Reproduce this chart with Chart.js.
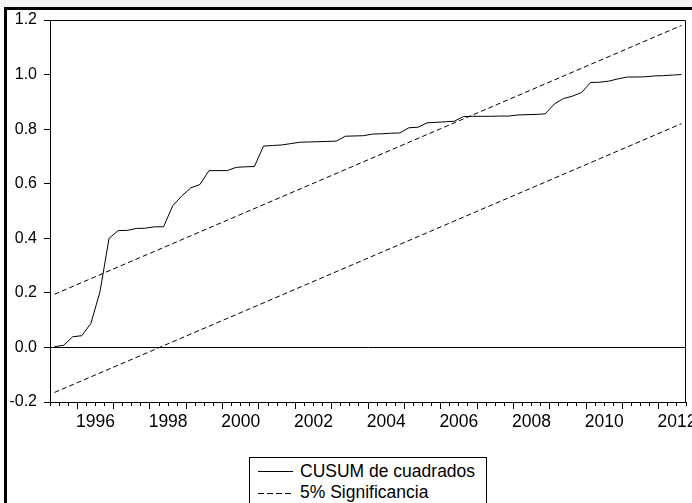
<!DOCTYPE html>
<html>
<head>
<meta charset="utf-8">
<script src="https://cdn.jsdelivr.net/npm/chart.js@4"></script>
<style>
html,body{margin:0;padding:0;background:#fff;}
#wrap{position:relative;width:692px;height:503px;overflow:hidden;background:#fff;}
#topband{position:absolute;left:0;top:0;width:692px;height:7px;background:#f4f4f4;}
#frame{position:absolute;left:4px;top:7px;width:720px;height:600px;border-left:3px solid #000;border-top:3px solid #000;pointer-events:none;}
#c{position:absolute;left:0;top:0;}
#legend{position:absolute;left:249px;top:457px;width:238px;height:70px;box-sizing:border-box;border:1px solid #000;background:#fff;}
.lt{position:absolute;font-family:'Liberation Sans',Arial,sans-serif;font-size:17.5px;line-height:20px;color:#000;white-space:nowrap;}
#ls{position:absolute;left:0;top:0;}
</style>
</head>
<body>
<div id="wrap">
  <div id="topband"></div>
  <canvas id="c" width="692" height="503"></canvas>
  <div id="legend"></div>
  <span class="lt" style="left:300px;top:461px;">CUSUM de cuadrados</span>
  <span class="lt" style="left:300px;top:482px;">5% Significancia</span>
  <svg id="ls" width="692" height="503">
    <line x1="258" y1="471.5" x2="293" y2="471.5" stroke="#000" stroke-width="1"/>
    <line x1="258" y1="493.5" x2="293" y2="493.5" stroke="#000" stroke-width="1" stroke-dasharray="6,3"/>
  </svg>
  <div id="frame"></div>
</div>
<script>
// ---- data ----
const quarters = [
 '1995Q2','1995Q3','1995Q4',
 '1996Q1','1996Q2','1996Q3','1996Q4',
 '1997Q1','1997Q2','1997Q3','1997Q4',
 '1998Q1','1998Q2','1998Q3','1998Q4',
 '1999Q1','1999Q2','1999Q3','1999Q4',
 '2000Q1','2000Q2','2000Q3','2000Q4',
 '2001Q1','2001Q2','2001Q3','2001Q4',
 '2002Q1','2002Q2','2002Q3','2002Q4',
 '2003Q1','2003Q2','2003Q3','2003Q4',
 '2004Q1','2004Q2','2004Q3','2004Q4',
 '2005Q1','2005Q2','2005Q3','2005Q4',
 '2006Q1','2006Q2','2006Q3','2006Q4',
 '2007Q1','2007Q2','2007Q3','2007Q4',
 '2008Q1','2008Q2','2008Q3','2008Q4',
 '2009Q1','2009Q2','2009Q3','2009Q4',
 '2010Q1','2010Q2','2010Q3','2010Q4',
 '2011Q1','2011Q2','2011Q3','2011Q4',
 '2012Q1','2012Q2','2012Q3'
];
const cusumSq = [
 0.003,0.008,0.039,0.043,0.088,0.204,0.400,0.428,0.429,0.436,
 0.437,0.442,0.442,0.519,0.555,0.585,0.597,0.648,0.648,0.648,
 0.660,0.662,0.663,0.738,0.740,0.742,0.747,0.752,0.753,0.754,
 0.755,0.756,0.774,0.775,0.776,0.782,0.783,0.785,0.786,0.805,
 0.807,0.823,0.825,0.827,0.829,0.846,0.847,0.847,0.847,0.848,
 0.848,0.852,0.853,0.854,0.856,0.892,0.912,0.921,0.934,0.971,
 0.972,0.976,0.984,0.991,0.991,0.992,0.995,0.996,0.998,1.000
];
const bandQuarters = ['1995Q2','2012Q3'];
const upperBand = [0.195, 1.18];
const lowerBand = [-0.165, 0.82];
const yTickValues = [-0.2, 0.0, 0.2, 0.4, 0.6, 0.8, 1.0, 1.2];
const yearLabels = ['1996','1998','2000','2002','2004','2006','2008','2010','2012'];
const axisStart = '1995Q2';
const axisEnd = '2012Q3';

// quarter label -> position (centre of the quarter, in years)
function qStart(q){ return parseInt(q.slice(0,4),10) + (parseInt(q.slice(5),10)-1)/4; }
function qCenter(q){ return qStart(q) + 0.125; }
const xMin = qStart(axisStart), xMax = qStart(axisEnd) + 0.25;

const toPts = (qs, vs) => qs.map((q,i)=>({x:qCenter(q), y:vs[i]}));

const frame = {
  id:'frame',
  afterDatasetsDraw(chart){
    const {ctx, chartArea:a} = chart;
    ctx.save();
    ctx.strokeStyle = '#000'; ctx.lineWidth = 1;
    ctx.beginPath();
    ctx.moveTo(Math.round(a.left)+0.5, Math.round(a.top)+0.5);
    ctx.lineTo(Math.round(a.right)-0.5, Math.round(a.top)+0.5);
    ctx.lineTo(Math.round(a.right)-0.5, Math.round(a.bottom)+0.5);
    ctx.stroke();
    ctx.restore();
  }
};

new Chart(document.getElementById('c'), {
  type:'line',
  data:{
    datasets:[
      {label:'CUSUM de cuadrados', data:toPts(quarters, cusumSq), borderColor:'#000', borderWidth:1, pointRadius:0, tension:0, fill:false},
      {label:'5% Significancia', data:toPts(bandQuarters, upperBand), borderColor:'#000', borderWidth:1, borderDash:[5,3], pointRadius:0, fill:false},
      {label:'5% Significancia (inf)', data:toPts(bandQuarters, lowerBand), borderColor:'#000', borderWidth:1, borderDash:[5,3], pointRadius:0, fill:false}
    ]
  },
  options:{
    responsive:false, animation:false, devicePixelRatio:1,
    layout:{padding:{top:20, right:6, left:0, bottom:0}},
    plugins:{legend:{display:false}, tooltip:{enabled:false}},
    scales:{
      x:{
        type:'linear', position:'bottom', min:xMin, max:xMax,
        afterBuildTicks(s){
          const t=[]; for(let v=xMin; v<=xMax+1e-9; v+=0.25) t.push({value:v});
          s.ticks=t;
        },
        afterFit(s){ s.height = 101; },
        ticks:{
          autoSkip:false, maxRotation:0, minRotation:0, padding:3, color:'#000',
          font:{family:"'Liberation Sans', Arial, sans-serif", size:17.5},
          callback(v){
            const y = v - 0.5;
            if (Math.abs(y - Math.round(y)) < 1e-6 && yearLabels.includes(String(Math.round(y)))) return String(Math.round(y));
            return '';
          }
        },
        grid:{
          drawOnChartArea:false, drawTicks:true, tickLength:7, tickColor:'#000', tickWidth:1,
          tickBorderDash(ctx){
            const v = ctx.tick ? ctx.tick.value : 0;
            return Math.abs(v-Math.round(v))<1e-6 ? [] : [3,20];
          }
        },
        border:{color:'#000', width:1}
      },
      y:{
        type:'linear', min:-0.2, max:1.2,
        afterBuildTicks(s){ s.ticks = yTickValues.map(v=>({value:v})); },
        afterFit(s){ s.width = 50; },
        ticks:{
          padding:7, color:'#000',
          font:{family:"'Liberation Sans', Arial, sans-serif", size:16},
          callback(v){ return v.toFixed(1); }
        },
        grid:{
          drawOnChartArea:true, drawTicks:true, tickLength:6, tickColor:'#000', tickWidth:1,
          color(ctx){ return (ctx.tick && Math.abs(ctx.tick.value)<1e-9) ? '#000' : 'rgba(0,0,0,0)'; },
          lineWidth:1
        },
        border:{color:'#000', width:1}
      }
    }
  },
  plugins:[frame]
});
</script>
</body>
</html>
